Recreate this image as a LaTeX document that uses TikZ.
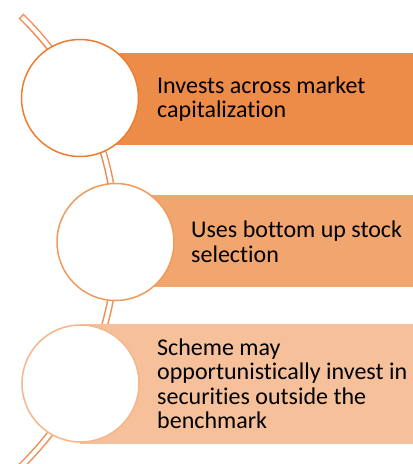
\documentclass[tikz,border=0pt]{standalone}
\usepackage{fontspec}
\setmainfont[Ligatures=CommonOff]{Carlito}
\usetikzlibrary{positioning}
\definecolor{accent1}{HTML}{ED8B48}
\definecolor{accent2}{HTML}{F1A66F}
\definecolor{accent3}{HTML}{F6C09A}
\definecolor{ring1}{HTML}{ED7D31}
\definecolor{ring2}{HTML}{F09A5C}
\definecolor{ring3}{HTML}{F4B68A}
\definecolor{railc}{HTML}{F08D55}

\begin{document}
\begin{tikzpicture}[
x=1pt, y=-1pt,
band/.style={fill=#1, draw=none, anchor=west, minimum width=333pt, inner sep=0pt},
ring/.style={circle, draw=#1, line width=1.5pt, fill=white, minimum size=117pt, inner sep=0pt},
itemtext/.style={anchor=west, align=left, inner sep=0pt, font=\fontsize{24}{24.5}\selectfont}
]
\useasboundingbox (0,0) rectangle (413,464);

% curved rail behind the circles
\coordinate (railtop) at (21,16);
\draw[railc, line width=7pt] (railtop) arc[start angle=-45.8, end angle=50, radius=314];
\draw[white, line width=4pt, shorten <=1.5pt] (railtop) arc[start angle=-45.8, end angle=50, radius=314];

% bands
\node[band=accent1, minimum height=92pt] (b1) at (80,99) {};
\node[band=accent2, minimum height=92pt] (b2) at (115,241) {};
\node[band=accent3, minimum height=120pt] (b3) at (80,384) {};

% circles
\node[ring=ring1] (c1) at (80,98) {};
\node[ring=ring2] (c2) at (115.5,242) {};
\node[ring=ring3] (c3) at (80.5,383.5) {};

% texts
\node[itemtext] (t1) at (157,99) {Invests across market\\capitalization};
\node[itemtext] (t2) at (191,242) {Uses bottom up stock\\selection};
\node[itemtext] (t3) at (157,384) {Scheme may\\opportunistically invest in\\securities outside the\\benchmark};
\end{tikzpicture}
\end{document}
